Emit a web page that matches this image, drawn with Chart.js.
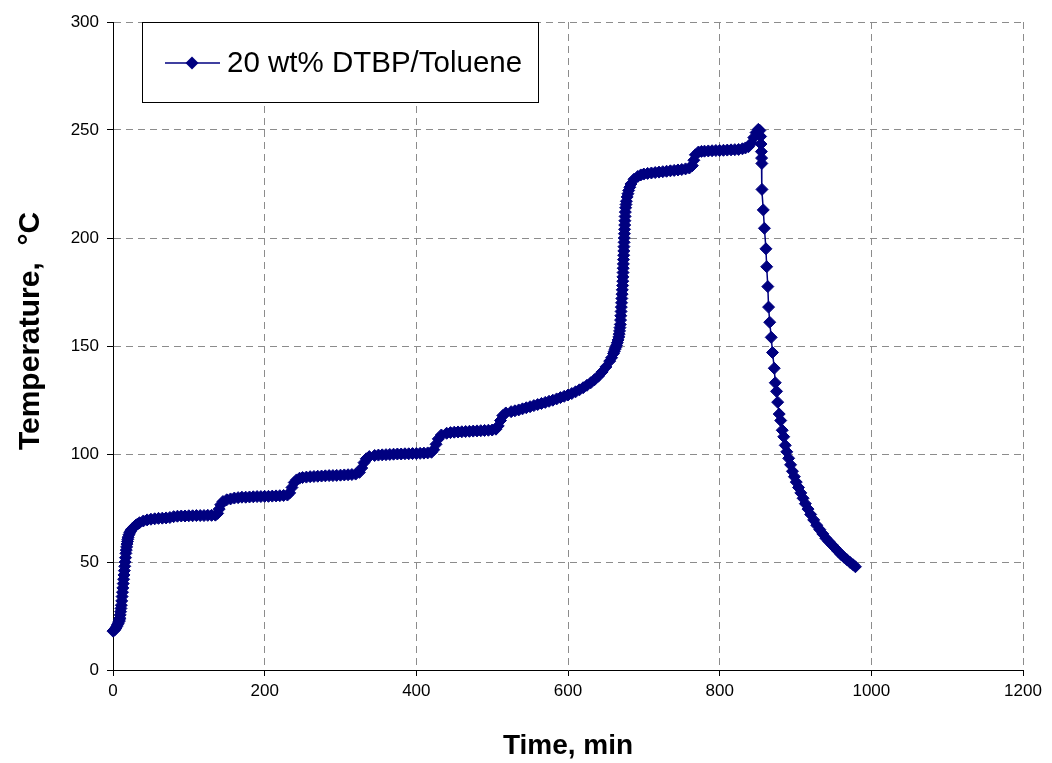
<!DOCTYPE html>
<html>
<head>
<meta charset="utf-8">
<script src="https://cdn.jsdelivr.net/npm/chart.js@4.4.1/dist/chart.umd.min.js"></script>
<style>
  html, body { margin: 0; padding: 0; background: #fff; }
  #wrap { width: 1052px; height: 763px; }
</style>
</head>
<body>
<div id="wrap"><canvas id="chart" width="1052" height="763"></canvas></div>
<script>
// heating run (time in min, temperature in °C)
const heatTime = [
  0, 1, 2, 3, 4, 5, 6, 7, 8, 8.5,
  9, 9.5, 10, 10.5, 11, 11.5, 12, 12.5, 13, 13.5,
  14, 14.5, 15, 15.5, 16, 16.5, 17, 17.5, 18, 18.5,
  19, 19.5, 20, 21, 22, 23, 24, 25.5, 27, 28.5,
  30, 32.5, 35, 40, 45, 50, 55, 60, 65, 70,
  75, 80, 85, 90, 95, 100, 105, 110, 115, 120,
  125, 130, 135, 138, 140, 142, 145, 150, 155, 160,
  165, 170, 175, 180, 185, 190, 195, 200, 205, 210,
  215, 220, 225, 230, 233, 236, 239, 242, 246, 250,
  255, 260, 265, 270, 275, 280, 285, 290, 295, 300,
  305, 310, 315, 320, 325, 328, 331, 334, 338, 345,
  350, 355, 360, 365, 370, 375, 380, 385, 390, 395,
  400, 405, 410, 415, 420, 423, 426, 429, 433, 440,
  445, 450, 455, 460, 465, 470, 475, 480, 485, 490,
  495, 500, 505, 508, 511, 514, 518, 525, 530, 535,
  540, 545, 550, 555, 560, 565, 570, 575, 580, 585,
  590, 595, 600, 605, 610, 615, 620, 625, 630, 635,
  640, 645, 650, 655, 657.5, 660, 661, 662, 663, 664,
  665, 666, 667, 667.5, 668, 668.5, 669, 669.3, 669.6, 670,
  670.3, 670.6, 671, 671.3, 671.6, 672, 672.2, 672.4, 672.6, 672.8,
  673, 673.2, 673.4, 673.6, 673.8, 674, 674.2, 674.4, 674.6, 674.8,
  675, 675.3, 675.6, 676, 676.5, 677, 678, 679, 680, 681.5,
  683, 687, 692, 696, 700, 705, 710, 715, 720, 725,
  730, 735, 740, 745, 750, 755, 760, 764, 766, 768,
  772, 776, 780, 785, 790, 795, 800, 805, 810, 815,
  820, 825, 830, 834, 838, 842, 845, 848, 851, 853,
  854, 854.5, 855, 855.3, 855.6
];
const heatTemp = [
  18, 18.2, 18.5, 19, 19.5, 20.2, 21, 21.7, 22.5, 23.2,
  24, 25.5, 27, 28.5, 30, 32, 34, 36, 38, 40,
  42, 44, 46, 48, 50, 52, 54, 55.5, 57, 58.3,
  59.5, 60.5, 61.5, 62.6, 63.5, 64.2, 64.8, 65.4, 66, 66.5,
  67, 67.6, 68.2, 69, 69.5, 69.8, 70, 70.2, 70.3, 70.4,
  70.6, 71, 71.2, 71.3, 71.3, 71.4, 71.4, 71.5, 71.5, 71.5,
  71.6, 71.6, 71.7, 72.5, 74.5, 76.5, 78, 78.8, 79.2, 79.6,
  79.8, 80, 80, 80.1, 80.2, 80.3, 80.3, 80.4, 80.4, 80.5,
  80.6, 80.7, 80.8, 81, 82, 84.5, 86.8, 88, 88.8, 89.1,
  89.3, 89.5, 89.6, 89.7, 89.8, 89.9, 90, 90, 90.1, 90.2,
  90.3, 90.4, 90.5, 90.7, 91.5, 93.5, 96, 97.8, 98.8, 99.3,
  99.5, 99.6, 99.7, 99.8, 99.9, 100, 100, 100.1, 100.1, 100.2,
  100.2, 100.3, 100.4, 100.5, 100.8, 102, 104.5, 107, 108.8, 109.6,
  109.9, 110.1, 110.2, 110.3, 110.4, 110.5, 110.6, 110.7, 110.8, 110.9,
  111, 111.1, 111.5, 113, 115.5, 117.8, 119, 119.6, 120, 120.4,
  120.9, 121.4, 121.9, 122.4, 122.9, 123.4, 123.9, 124.4, 124.9, 125.5,
  126.1, 126.7, 127.3, 128, 128.8, 129.7, 130.7, 131.8, 133, 134.4,
  136, 138, 140.3, 143, 144.6, 146.5, 147.5, 148.5, 149.3, 150.3,
  151.5, 152.8, 154.2, 155.5, 157, 158.5, 160, 162, 164, 166,
  168, 170, 172, 174, 176, 178, 180, 182, 184, 186,
  188, 190, 192, 194, 196, 198, 200, 202, 204, 206,
  208, 210, 212, 214, 215.5, 217, 219, 220.5, 222, 223.5,
  225, 227.2, 228.5, 229.2, 229.6, 229.9, 230.1, 230.3, 230.5, 230.7,
  230.9, 231.1, 231.3, 231.5, 231.7, 232, 232.4, 233.5, 236, 238.5,
  239.8, 240.1, 240.2, 240.3, 240.4, 240.5, 240.5, 240.6, 240.7, 240.8,
  240.9, 241, 241.3, 241.7, 242.3, 244, 246.5, 248.8, 250.3, 249.8,
  247, 243.5, 240, 237, 234.5
];

// cool-down after the peak
const coolTime = [
  855.8, 857.5, 859, 861, 862, 863.5, 864.5, 866, 868, 869.7,
  872, 873.3, 875, 876.5, 878.5, 880.5, 882.5, 884.5, 886.5, 888.5,
  891, 893.5, 896, 898.5, 901, 904, 907, 910, 913, 916.5,
  920, 924, 928, 932, 936, 940, 944, 948, 952, 956,
  960, 964, 968, 972, 976, 979
];
const coolTemp = [
  222.5, 213, 204.5, 195, 186.7, 177.5, 168, 161, 154, 147,
  139.7, 133, 129, 124, 118.5, 115.5, 111, 108, 104, 101,
  98, 95, 92, 89.5, 87, 84.5, 82, 79.5, 77, 74.5,
  72, 69.5, 67, 65, 63, 61, 59.5, 58, 56.5, 55,
  53.5, 52.2, 51, 49.8, 48.7, 47.8
];

const xTicks = [0, 200, 400, 600, 800, 1000, 1200];
const yTicks = [0, 50, 100, 150, 200, 250, 300];
const seriesLabel = '20 wt% DTBP/Toluene';
const yTitle = 'Temperature,  °C';

if (heatTime.length !== heatTemp.length) throw new Error('heat arrays ' + heatTime.length + ' vs ' + heatTemp.length);
if (coolTime.length !== coolTemp.length) throw new Error('cool arrays ' + coolTime.length + ' vs ' + coolTemp.length);

const NAVY = '#000080';
const FONT = "Arial, 'Liberation Sans', sans-serif";

const points = heatTime.map((t, i) => ({ x: t, y: heatTemp[i] }))
  .concat(coolTime.map((t, i) => ({ x: t, y: coolTemp[i] })));

// legend box like the Excel one, plus the y title (Excel puts it a bit above centre)
const extras = {
  id: 'extras',
  afterDraw(chart) {
    const ctx = chart.ctx;
    ctx.save();
    ctx.fillStyle = '#fff';
    ctx.fillRect(142, 22, 396, 80);
    ctx.strokeStyle = '#000';
    ctx.lineWidth = 1;
    ctx.strokeRect(142.5, 22.5, 396, 80);
    ctx.strokeStyle = NAVY;
    ctx.lineWidth = 1.5;
    ctx.beginPath();
    ctx.moveTo(165, 63);
    ctx.lineTo(220, 63);
    ctx.stroke();
    ctx.fillStyle = NAVY;
    ctx.beginPath();
    ctx.moveTo(192, 56.5);
    ctx.lineTo(198.5, 63);
    ctx.lineTo(192, 69.5);
    ctx.lineTo(185.5, 63);
    ctx.closePath();
    ctx.fill();
    ctx.fillStyle = '#000';
    ctx.font = '29.5px ' + FONT;
    ctx.textBaseline = 'middle';
    ctx.textAlign = 'left';
    ctx.fillText(seriesLabel, 227, 64);

    ctx.translate(31, 331);
    ctx.rotate(-Math.PI / 2);
    ctx.font = 'bold 30px ' + FONT;
    ctx.textAlign = 'center';
    ctx.fillText(yTitle, 0, 0);
    ctx.restore();
  }
};

new Chart(document.getElementById('chart'), {
  type: 'scatter',
  data: {
    datasets: [{
      label: seriesLabel,
      data: points,
      showLine: true,
      borderColor: NAVY,
      borderWidth: 1.5,
      backgroundColor: NAVY,
      pointStyle: 'rectRot',
      pointRadius: 6,
      pointBorderWidth: 1,
      pointBorderColor: NAVY,
      pointBackgroundColor: NAVY,
      clip: false
    }]
  },
  options: {
    responsive: false,
    animation: false,
    devicePixelRatio: 1,
    layout: { padding: { top: 22, right: 29, bottom: 0, left: 0 } },
    plugins: {
      legend: { display: false },
      tooltip: { enabled: false }
    },
    scales: {
      x: {
        type: 'linear',
        min: 0,
        max: 1200,
        afterBuildTicks: (scale) => { scale.ticks = xTicks.map(v => ({ value: v })); },
        afterFit: (scale) => { scale.height = 93; },
        ticks: { color: '#000', font: { family: FONT, size: 17 }, padding: 5, maxRotation: 0, callback: v => String(v) },
        grid: { color: '#8c8c8c', lineWidth: 1, tickLength: 6, tickColor: '#000', tickBorderDash: [] },
        border: { display: true, color: '#000', width: 1, dash: [7, 5] },
        title: {
          display: true,
          text: 'Time, min',
          color: '#000',
          font: { family: FONT, size: 28, weight: 'bold' },
          padding: { top: 0, bottom: 0 }
        }
      },
      y: {
        type: 'linear',
        min: 0,
        max: 300,
        afterBuildTicks: (scale) => { scale.ticks = yTicks.map(v => ({ value: v })); },
        afterFit: (scale) => { scale.width = 113; },
        ticks: { color: '#000', font: { family: FONT, size: 17 }, padding: 8, callback: v => String(v) },
        grid: { color: '#8c8c8c', lineWidth: 1, tickLength: 6, tickColor: '#000', tickBorderDash: [] },
        border: { display: true, color: '#000', width: 1, dash: [7, 5] }
      }
    }
  },
  plugins: [extras]
});
</script>
</body>
</html>
